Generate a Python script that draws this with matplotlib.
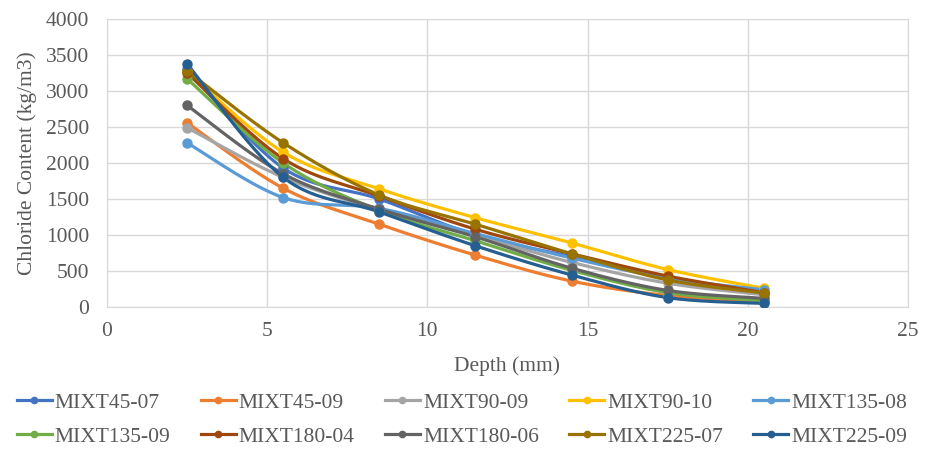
import numpy as np
import matplotlib
matplotlib.use("Agg")
import matplotlib.pyplot as plt

depth = [2.5, 5.5, 8.5, 11.5, 14.5, 17.5, 20.5]

labels = ["MIXT45-07", "MIXT45-09", "MIXT90-09", "MIXT90-10", "MIXT135-08",
          "MIXT135-09", "MIXT180-04", "MIXT180-06", "MIXT225-07", "MIXT225-09"]

mixt45_07 = [3300, 1930, 1500, 1000, 700, 400, 190]
mixt45_09 = [2560, 1650, 1150, 720, 360, 160, 80]
mixt90_09 = [2490, 1800, 1350, 990, 620, 330, 170]
mixt90_10 = [3270, 2150, 1640, 1240, 890, 520, 260]
mixt135_08 = [2280, 1520, 1370, 1020, 680, 400, 240]
mixt135_09 = [3170, 2000, 1340, 920, 510, 200, 90]
mixt180_04 = [3250, 2060, 1540, 1080, 740, 430, 200]
mixt180_06 = [2800, 1850, 1360, 975, 540, 230, 120]
mixt225_07 = [3280, 2280, 1555, 1150, 740, 375, 195]
mixt225_09 = [3375, 1800, 1320, 850, 445, 130, 50]

series = [mixt45_07, mixt45_09, mixt90_09, mixt90_10, mixt135_08,
          mixt135_09, mixt180_04, mixt180_06, mixt225_07, mixt225_09]

colors = ["#4472C4", "#ED7D31", "#A5A5A5", "#FFC000", "#5B9BD5",
          "#70AD47", "#9E480E", "#636363", "#997300", "#255E91"]


def smooth(x, y, n=30):
    # excel-like smoothed line: bezier segments, catmull-rom style handles
    x = np.asarray(x, float)
    y = np.asarray(y, float)
    px = np.concatenate([[x[0]], x, [x[-1]]])
    py = np.concatenate([[y[0]], y, [y[-1]]])
    xs, ys = [], []
    t = np.linspace(0, 1, n)
    for i in range(1, len(px) - 2):
        p0 = np.array([px[i], py[i]])
        p3 = np.array([px[i + 1], py[i + 1]])
        c1 = p0 + (np.array([px[i + 1], py[i + 1]]) - np.array([px[i - 1], py[i - 1]])) / 6
        c2 = p3 - (np.array([px[i + 2], py[i + 2]]) - np.array([px[i], py[i]])) / 6
        b = ((1 - t) ** 3)[:, None] * p0 + (3 * (1 - t) ** 2 * t)[:, None] * c1 \
            + (3 * (1 - t) * t ** 2)[:, None] * c2 + (t ** 3)[:, None] * p3
        xs.extend(b[:, 0])
        ys.extend(b[:, 1])
    return xs, ys


plt.rcParams['font.family'] = ['Liberation Serif', 'DejaVu Serif']
fs = 15.5

fig = plt.figure(figsize=(9.37, 4.53), dpi=100)
ax = fig.add_axes([0.1142, 0.3223, 0.8548, 0.6357])

handles = []
for vals, col, lab in zip(series, colors, labels):
    sx, sy = smooth(depth, vals)
    ax.plot(sx, sy, color=col, lw=2.3, solid_capstyle='round', zorder=2)
    ax.plot(depth, vals, 'o', color=col, ms=6.5, zorder=3)
    h, = ax.plot([], [], '-o', color=col, lw=2.3, ms=4.5, label=lab)
    handles.append(h)

ax.set_xlim(0, 25)
ax.set_ylim(0, 4000)
ax.set_xticks(range(0, 26, 5))
ax.set_yticks(range(0, 4001, 500))
ax.grid(True, color='#D9D9D9', lw=1)
ax.set_axisbelow(True)
for s in ax.spines.values():
    s.set_color('#D9D9D9')
ax.tick_params(length=0, labelsize=fs, colors='#595959')
ax.tick_params(axis='x', pad=11)
ax.tick_params(axis='y', pad=13)
ax.set_xlabel('Depth (mm)', fontsize=fs, color='#595959', labelpad=11)
ax.set_ylabel('Chloride Content (kg/m3)', fontsize=fs, color='#595959', labelpad=6)

order = [0, 5, 1, 6, 2, 7, 3, 8, 4, 9]
fig.legend([handles[i] for i in order], [labels[i] for i in order],
           ncol=5, loc='center', bbox_to_anchor=(0.493, 0.073), frameon=False,
           fontsize=fs, handlelength=1.63, handletextpad=0.14, columnspacing=1.4,
           labelspacing=0.65, labelcolor='#595959')

fig.savefig('out.png', dpi=100)
